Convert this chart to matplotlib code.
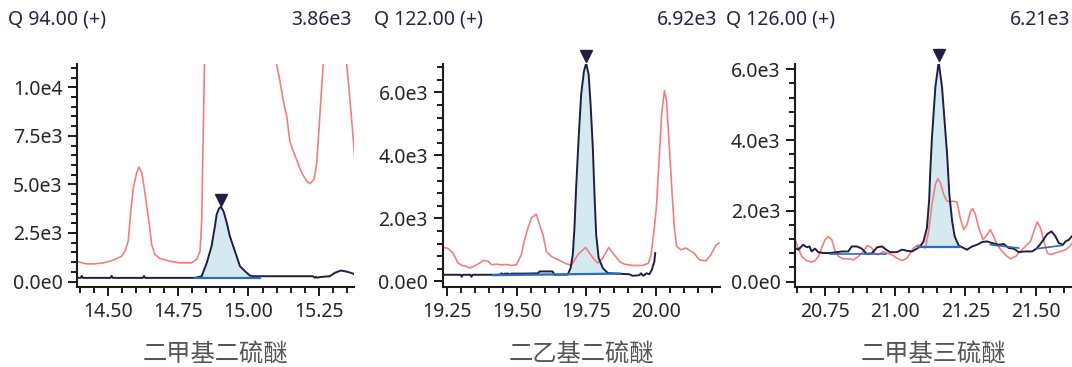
import numpy as np
import matplotlib
matplotlib.use("Agg")
import matplotlib.pyplot as plt
from matplotlib.ticker import MultipleLocator, FuncFormatter
from matplotlib import transforms

plt.rcParams['font.family'] = ['Noto Sans', 'DejaVu Sans']

# ---------------- data ----------------
titles_left = ["Q 94.00 (+)", "Q 122.00 (+)", "Q 126.00 (+)"]
titles_right = ["3.86e3", "6.92e3", "6.21e3"]
compounds = ["二甲基二硫醚", "二乙基二硫醚", "二甲基三硫醚"]
peak_t = [14.902, 19.749, 21.155]
peak_v = [3860, 6920, 6210]

# panel 1
p1_navy_t = [14.396, 14.404, 14.408, 14.412, 14.510, 14.514, 14.518, 14.625, 14.629, 14.633,
             14.810, 14.834, 14.852, 14.869, 14.881, 14.887, 14.895, 14.902, 14.912, 14.923,
             14.934, 14.946, 14.958, 14.970, 14.988, 15.005, 15.017, 15.229, 15.236, 15.240,
             15.245, 15.254, 15.289, 15.307, 15.329, 15.349, 15.364, 15.378]
p1_navy_v = [190, 190, 290, 190, 190, 290, 190, 190, 290, 190,
             190, 275, 965, 1820, 2850, 3450, 3750, 3860, 3600, 3025,
             2335, 1820, 1305, 790, 530, 310, 275, 275, 200, 240,
             200, 230, 275, 450, 570, 510, 450, 370]
p1_red_t = [14.396, 14.410, 14.425, 14.450, 14.484, 14.520, 14.550, 14.561, 14.573, 14.582,
            14.591, 14.603, 14.611, 14.621, 14.629, 14.638, 14.648, 14.656, 14.668, 14.686,
            14.721, 14.757, 14.798, 14.816, 14.828, 14.834, 14.840, 14.844, 14.850, 14.970,
            15.094, 15.100, 15.112, 15.124, 15.136, 15.147, 15.159, 15.173, 15.189, 15.207,
            15.218, 15.233, 15.242, 15.251, 15.260, 15.266, 15.272, 15.290, 15.340, 15.349,
            15.360, 15.372, 15.381]
p1_red_v = [1015, 960, 910, 910, 960, 1100, 1305, 1560, 2080, 3625,
            4830, 5600, 5895, 5600, 4915, 3970, 2940, 1910, 1390, 1185,
            1045, 960, 960, 1135, 1560, 3110, 8265, 11200, 16000, 25000,
            16000, 11200, 10325, 9295, 8520, 7230, 6715, 6200, 5600, 5170,
            5035, 5260, 6030, 7920, 9985, 11200, 15000, 18000, 15000, 11200,
            9470, 7410, 5775]
p1_base_t = [14.810, 15.041]
p1_base_v = [190, 190]

# panel 2
p2_navy_t = [19.236, 19.298, 19.302, 19.306, 19.333, 19.337, 19.341, 19.415, 19.440, 19.445,
             19.450, 19.457, 19.470, 19.475, 19.480, 19.528, 19.576, 19.582, 19.628, 19.636,
             19.683, 19.693, 19.701, 19.707, 19.713, 19.722, 19.731, 19.741, 19.749, 19.758,
             19.765, 19.773, 19.779, 19.785, 19.794, 19.809, 19.827, 19.869, 19.904, 19.916,
             19.940, 19.946, 19.954, 19.966, 19.976, 19.985, 19.994, 19.997]
p2_navy_v = [213, 213, 150, 213, 213, 150, 213, 213, 220, 260,
             215, 250, 250, 215, 250, 250, 260, 320, 320, 213,
             220, 425, 848, 1695, 2965, 4553, 5928, 6668, 6920, 6563,
             5610, 4235, 2753, 1483, 743, 425, 267, 244, 230, 180,
             200, 260, 180, 260, 230, 371, 635, 900]
p2_red_t = [19.236, 19.254, 19.271, 19.289, 19.302, 19.319, 19.331, 19.349, 19.367, 19.379,
            19.397, 19.409, 19.427, 19.445, 19.463, 19.481, 19.499, 19.516, 19.528, 19.540,
            19.552, 19.570, 19.582, 19.594, 19.606, 19.624, 19.648, 19.672, 19.696, 19.701,
            19.719, 19.731, 19.747, 19.761, 19.779, 19.791, 19.809, 19.830, 19.845, 19.869,
            19.886, 19.916, 19.952, 19.973, 19.982, 19.994, 20.002, 20.012, 20.020, 20.030,
            20.038, 20.048, 20.058, 20.066, 20.074, 20.090, 20.107, 20.119, 20.137, 20.155,
            20.179, 20.197, 20.215, 20.227]
p2_red_v = [1080, 1045, 900, 585, 510, 480, 425, 500, 585, 670,
            640, 530, 550, 530, 540, 510, 530, 848, 1324, 1695,
            2013, 2140, 1800, 1483, 953, 794, 689, 584, 508, 584,
            848, 953, 1080, 900, 689, 584, 743, 1080, 900, 635,
            550, 508, 508, 584, 848, 1695, 2435, 4023, 5293, 6055,
            5715, 4235, 2753, 1695, 1111, 1006, 1060, 1000, 900, 689,
            650, 848, 1143, 1220]
p2_base_t = [19.415, 19.870]
p2_base_v = [200, 250]

# panel 3
p3_navy_t = [20.643, 20.655, 20.672, 20.685, 20.695, 20.702, 20.714, 20.726, 20.744, 20.768,
             20.792, 20.810, 20.833, 20.845, 20.863, 20.881, 20.899, 20.917, 20.935, 20.953,
             20.968, 20.982, 21.006, 21.024, 21.042, 21.060, 21.077, 21.089, 21.101, 21.113,
             21.121, 21.125, 21.131, 21.143, 21.155, 21.167, 21.176, 21.185, 21.193, 21.203,
             21.212, 21.226, 21.244, 21.256, 21.274, 21.292, 21.310, 21.327, 21.345, 21.369,
             21.387, 21.405, 21.422, 21.440, 21.464, 21.488, 21.506, 21.524, 21.542, 21.557,
             21.571, 21.583, 21.598, 21.607, 21.619, 21.629]
p3_navy_v = [947, 900, 1040, 970, 990, 850, 930, 830, 805, 805,
             830, 850, 850, 992, 992, 930, 777, 800, 964, 992,
             900, 830, 830, 900, 870, 850, 930, 992, 1134, 1514,
             2300, 3119, 4065, 5483, 6210, 5483, 4536, 3592, 2458, 1701,
             1276, 1021, 947, 900, 992, 1040, 1117, 1134, 1087, 1040,
             1060, 947, 930, 833, 850, 850, 947, 1134, 1344, 1418,
             1276, 1087, 1040, 1134, 1181, 1276]
p3_red_t = [20.643, 20.655, 20.667, 20.685, 20.702, 20.714, 20.726, 20.738, 20.750, 20.762,
            20.774, 20.786, 20.798, 20.815, 20.833, 20.851, 20.869, 20.887, 20.901, 20.917,
            20.929, 20.940, 20.958, 20.970, 20.988, 21.006, 21.024, 21.042, 21.054, 21.065,
            21.083, 21.095, 21.107, 21.119, 21.131, 21.143, 21.152, 21.161, 21.173, 21.185,
            21.196, 21.208, 21.220, 21.232, 21.244, 21.256, 21.268, 21.276, 21.286, 21.298,
            21.313, 21.327, 21.339, 21.351, 21.363, 21.381, 21.399, 21.411, 21.429, 21.446,
            21.464, 21.482, 21.494, 21.506, 21.518, 21.530, 21.542, 21.554, 21.571, 21.589,
            21.607, 21.621, 21.631]
p3_red_v = [1182, 947, 709, 587, 550, 587, 709, 947, 1182, 1276,
            1182, 850, 709, 643, 643, 615, 709, 850, 1021, 947,
            777, 760, 850, 805, 760, 662, 587, 662, 805, 947,
            1040, 992, 947, 1400, 2174, 2741, 2910, 2789, 2458, 2268,
            2268, 2268, 2250, 1797, 1466, 1607, 1985, 2061, 1891, 1513,
            1182, 1323, 1466, 1276, 1040, 850, 709, 643, 709, 850,
            992, 1134, 1418, 1683, 1513, 1134, 805, 760, 805, 850,
            900, 992, 1087]
p3_base_t = [21.083, 21.232]
p3_base_v = [964, 964]
p3_extra_bases = [([20.768, 20.968], [777, 777]),
                  ([21.339, 21.440], [1040, 947]),
                  ([21.506, 21.595], [930, 1020])]

# ---------------- style ----------------
NAVY = '#1f1f42'
RED = '#f07f7f'
FILL = '#d4e9f0'
BASE = '#2d6cbd'
TEXT = '#262640'
AX = '#1a1a1a'

W, H = 1072, 367
fig = plt.figure(figsize=(W / 100, H / 100), dpi=100)

ax_left_px = [77, 442.5, 795]
ax_w_px = 277
ax_top_px, ax_bot_px = 64, 287
xlims = [(14.391, 15.375), (19.233, 20.228), (20.643, 21.630)]
ylims = [(-280, 11200), (-175, 6900), (-155, 6150)]
ymaj = [2500, 2000, 2000]
ymin = [500, 400, 400]

panels = [
    (p1_navy_t, p1_navy_v, p1_red_t, p1_red_v, p1_base_t, p1_base_v, []),
    (p2_navy_t, p2_navy_v, p2_red_t, p2_red_v, p2_base_t, p2_base_v, []),
    (p3_navy_t, p3_navy_v, p3_red_t, p3_red_v, p3_base_t, p3_base_v, p3_extra_bases),
]


def sci_fmt(v, pos):
    if abs(v) < 1e-9:
        return "0.0e0"
    e = int(np.floor(np.log10(abs(v))))
    m = v / 10 ** e
    return f"{m:.1f}e{e}"


for i, (nt, nv, rt, rv, bt, bv, extra) in enumerate(panels):
    l = ax_left_px[i] / W
    b = 1 - ax_bot_px / H
    h = (ax_bot_px - ax_top_px) / H
    ax = fig.add_axes([l, b, ax_w_px / W, h])
    nt = np.array(nt); nv = np.array(nv)
    base_interp = np.interp(nt, bt, bv)
    inside = (nt >= bt[0]) & (nt <= bt[-1])
    ax.fill_between(nt, nv, base_interp, where=inside & (nv >= base_interp),
                    interpolate=True, color=FILL, lw=0, zorder=1)
    ax.plot(rt, rv, color=RED, lw=1.2, zorder=2)
    ax.plot(nt, nv, color=NAVY, lw=1.4, zorder=3)
    ax.plot(bt, bv, color=BASE, lw=1.6, zorder=4)
    for et, ev in extra:
        ax.plot(et, ev, color=BASE, lw=1.2, zorder=4)
    tr = transforms.offset_copy(ax.transData, fig=fig, x=0, y=7, units='dots')
    ax.plot([peak_t[i]], [peak_v[i]], marker='v', ms=8, color=NAVY,
            transform=tr, clip_on=False, zorder=5, ls='none')

    ax.set_xlim(*xlims[i])
    ax.set_ylim(*ylims[i])
    ax.xaxis.set_major_locator(MultipleLocator(0.25))
    ax.xaxis.set_minor_locator(MultipleLocator(0.05))
    ax.xaxis.set_major_formatter(FuncFormatter(lambda v, p: f"{v:.2f}"))
    ax.yaxis.set_major_locator(MultipleLocator(ymaj[i]))
    ax.yaxis.set_minor_locator(MultipleLocator(ymin[i]))
    ax.yaxis.set_major_formatter(FuncFormatter(sci_fmt))
    for s in ['top', 'right']:
        ax.spines[s].set_visible(False)
    for s in ['left', 'bottom']:
        ax.spines[s].set_linewidth(1.5)
        ax.spines[s].set_color(AX)
    ax.tick_params(which='major', length=6.5, width=1.4, color=AX,
                   labelsize=14, labelcolor='#262626', pad=4)
    ax.tick_params(which='minor', length=4, width=1.4, color=AX)
    ax.set_xlabel(compounds[i], family=['Noto Sans CJK SC', 'DejaVu Sans'],
                  fontsize=17.5, color='#555555', fontweight='light', labelpad=14)

    fig.text((ax_left_px[i] - 69) / W, 1 - 20 / H, titles_left[i],
             ha='left', va='center', fontsize=14, color=TEXT)
    fig.text((ax_left_px[i] + ax_w_px - 2) / W, 1 - 20 / H, titles_right[i],
             ha='right', va='center', fontsize=14, color=TEXT)

fig.savefig("out.png", dpi=100)
